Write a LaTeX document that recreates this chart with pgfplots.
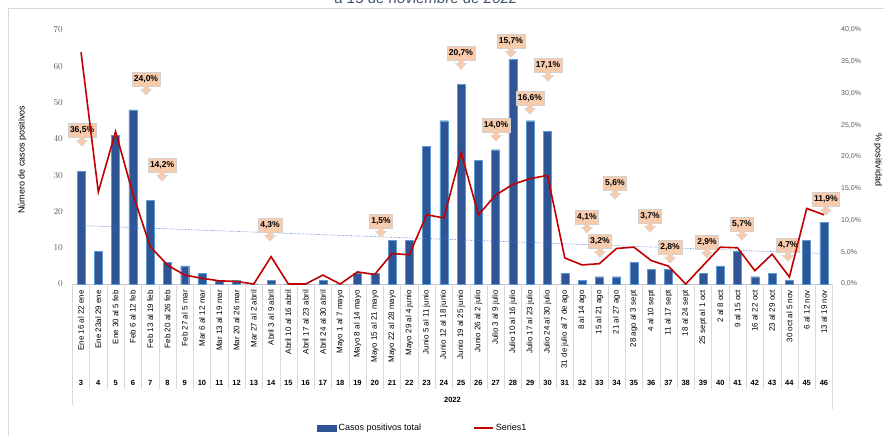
\documentclass[border=0pt]{standalone}
\usepackage{pgfplots}
\pgfplotsset{compat=1.18}
\usepackage{pgfplotstable}
\usepackage{fontspec}
\setmainfont{Liberation Sans}
\definecolor{barblue}{RGB}{47,85,151}
\definecolor{baredge}{RGB}{91,155,213}
\definecolor{linered}{RGB}{192,0,0}
\definecolor{peach}{RGB}{248,203,173}
\definecolor{trendblue}{RGB}{68,114,196}
\definecolor{ticktext}{RGB}{89,89,89}
\definecolor{sepgray}{RGB}{217,217,217}
\definecolor{titlecol}{RGB}{68,84,106}

\pgfplotstableread{
wk cases pct
3 31 36.5
4 9 14.5
5 41 24.0
6 48 14.2
7 23 5.9
8 6 3.0
9 5 1.4
10 3 0.9
11 1 0.5
12 1 0.4
13 0 0.0
14 1 4.3
15 0 0.0
16 0 0.0
17 1 1.4
18 0 0.0
19 3 1.9
20 3 1.5
21 12 4.8
22 12 4.6
23 38 10.9
24 45 10.4
25 55 20.7
26 34 10.9
27 37 14.0
28 62 15.7
29 45 16.6
30 42 17.1
31 3 4.1
32 1 3.0
33 2 3.2
34 2 5.6
35 6 5.8
36 4 3.7
37 4 2.8
38 0 0.0
39 3 2.9
40 5 5.8
41 9 5.7
42 2 2.1
43 3 4.7
44 1 1.1
45 12 11.9
46 17 10.9
}\data

\newcommand{\callout}[3]{%
  \node[fill=peach, draw=gray!35, font=\bfseries\fontsize{8.5}{9}\selectfont,
        inner sep=2pt, minimum height=14pt] (c) at (axis cs:#1,#2) {#3};
  \filldraw[fill=peach, draw=gray!35] ([shift={(-2.5pt,0pt)}]c.south) -- ++(0pt,-3pt) -- ++(-3pt,0pt)
     -- ([shift={(0pt,-9pt)}]c.south) -- ++(5.5pt,6pt) -- ++(-3pt,0pt) -- ([shift={(2.5pt,0pt)}]c.south);
}

\begin{document}
\begin{tikzpicture}
\useasboundingbox (0,0) rectangle (884pt,436pt);
% frame and cropped title
\draw[sepgray] (8pt,-10pt) -- (8pt,428pt) -- (900pt,428pt);
\node[anchor=base, font=\itshape\fontsize{15}{16}\selectfont, text=titlecol] at (426pt,432.5pt) {a 15 de noviembre de 2022};

\begin{axis}[
  at={(72.4pt,152pt)}, anchor=south west,
  scale only axis, width=760.2pt, height=254pt,
  xmin=2.5, xmax=46.5, ymin=0, ymax=70,
  clip=false,
  axis x line*=bottom, axis y line*=left,
  axis line style={-},
  x axis line style={draw=gray!45},
  y axis line style={draw=none},
  xtick={3,...,46},
  xticklabels={Ene 16 al 22 ene, Ene 23al 29 ene, Ene 30 al 5 feb, Feb 6 al 12 feb, Feb 13 al 19 feb, Feb 20 al 26 feb, Feb 27 al 5 mar, Mar 6 al 12 mar, Mar 13 al 19 mar, Mar 20 al 26 mar, Mar 27 al 2 abril, Abril 3 al 9 abril, Abril 10 al 16 abril, Abril 17 al 23 abril, Abril 24 al 30 abril, Mayo 1 al 7 mayo, Mayo 8 al 14 mayo, Mayo 15 al 21 mayo, Mayo 22 al 28 mayo, Mayo 29 al 4 junio, Junio 5 al 11 junio, Junio 12 al 18 junio, Junio 19 al 25 junio, Junio 26 al 2 julio, Julio 3 al 9 julio, Julio 10 al 16 julio, Julio 17 al 23 julio, Julio 24 al 30 julio, 31 de julio al 7 de ago, 8 al 14 ago, 15 al 21 ago, 21 al 27 ago, 28 ago al 3 sept, 4 al 10 sept, 11 al 17 sept, 18 al 24 sept, 25 sept al 1 oct, 2 al 8 oct, 9 al 15 oct, 16 al 22 oct, 23 al 29 oct, 30 oct al 5 nov, 6 al 12 nov, 13 al 19 nov},
  xticklabel style={yshift=-5pt, rotate=90, anchor=east, font=\fontsize{8}{9}\selectfont, inner sep=1pt},
  major tick length=0pt,
  ytick={0,10,...,70},
  yticklabel style={font=\fontsize{9.5}{10}\selectfont, text=ticktext, xshift=-6pt},
]
\pgfplotsinvokeforeach{3,...,45}{\draw[sepgray] (axis cs:#1.5,0) -- ++(0pt,-105pt);}
\draw[sepgray] (axis cs:2.5,0) -- ++(0pt,-121pt);
\draw[sepgray] (axis cs:46.5,0) -- ++(0pt,-125pt);
\pgfplotsinvokeforeach{3,...,46}{\node[font=\bfseries\fontsize{7.5}{8}\selectfont] at ([yshift=-99pt]axis cs:#1,0) {#1};}
\node[font=\bfseries\fontsize{7.5}{8}\selectfont] at (axis description cs:0.5,-0.457) {2022};
\node[rotate=90, font=\fontsize{9}{10}\selectfont] at (axis description cs:-0.066,0.49) {Número de casos positivos};

\addplot[ybar, bar width=8pt, fill=barblue, draw=baredge, line width=0.4pt] table[x=wk,y=cases]{\data};
\addplot[trendblue, densely dotted, line width=0.6pt] coordinates {(3,16.1) (46,8.4)};

\callout{3.06}{42.4}{36,5\%}
\callout{6.76}{56.5}{24,0\%}
\callout{7.69}{32.8}{14,2\%}
\callout{13.94}{16.25}{4,3\%}
\callout{20.36}{17.4}{1,5\%}
\callout{24.99}{63.6}{20,7\%}
\callout{27.88}{66.9}{15,7\%}
\callout{30.03}{60.3}{17,1\%}
\callout{28.98}{51.2}{16,6\%}
\callout{27.02}{43.8}{14,0\%}
\callout{32.28}{18.5}{4,1\%}
\callout{33.03}{11.8}{3,2\%}
\callout{33.90}{27.8}{5,6\%}
\callout{35.93}{18.7}{3,7\%}
\callout{37.09}{10.2}{2,8\%}
\callout{39.23}{11.6}{2,9\%}
\callout{41.25}{16.5}{5,7\%}
\callout{43.91}{10.7}{4,7\%}
\callout{46.11}{23.4}{11,9\%}
\end{axis}

\begin{axis}[
  at={(72.4pt,152pt)}, anchor=south west,
  scale only axis, width=760.2pt, height=254pt,
  xmin=2.5, xmax=46.5, ymin=0, ymax=40,
  clip=false,
  hide x axis,
  axis y line*=right,
  y axis line style={draw=none},
  major tick length=0pt,
  ytick={0,5,...,40},
  yticklabels={{0,0\%},{5,0\%},{10,0\%},{15,0\%},{20,0\%},{25,0\%},{30,0\%},{35,0\%},{40,0\%}},
  yticklabel style={font=\fontsize{7}{8}\selectfont, text=ticktext, xshift=5pt},
  legend style={at={(axis description cs:0.461,-0.567)}, anchor=center, draw=none, fill=none,
    legend columns=2, font=\fontsize{9}{10}\selectfont,
    /tikz/every even column/.append style={column sep=50pt}},
  legend image code/.code={\draw[#1] (0pt,0pt) -- (19pt,0pt);},
]
\node[rotate=-90, font=\fontsize{9}{10}\selectfont] at (axis description cs:1.0597,0.49) {\% positividad};
\addlegendimage{legend image code/.code={\fill[barblue] (0pt,-3pt) rectangle (19pt,3pt);}}
\addlegendentry{Casos positivos total}
\addplot[linered, line width=1.6pt, mark=none] table[x=wk,y=pct]{\data};
\addlegendentry{Series1}
\end{axis}
\end{tikzpicture}
\end{document}
